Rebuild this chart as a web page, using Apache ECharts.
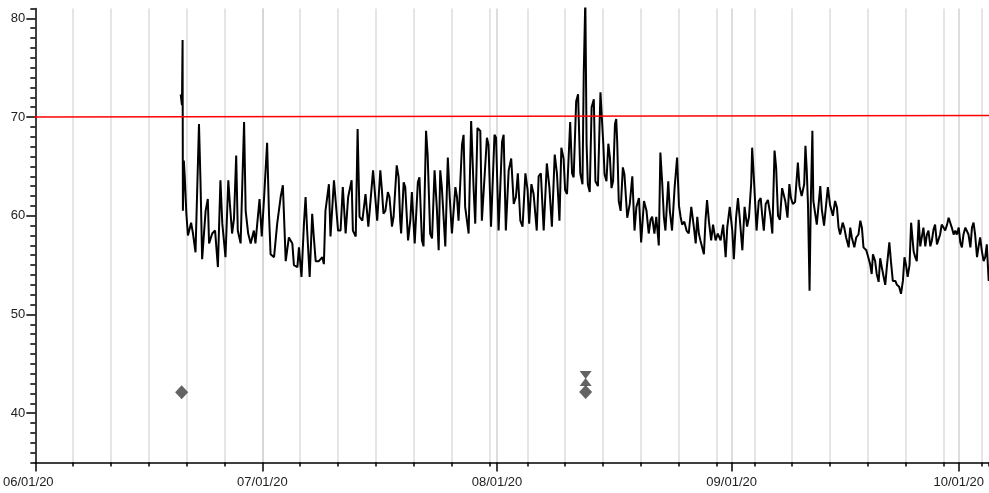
<!DOCTYPE html>
<html>
<head>
<meta charset="utf-8">
<script src="https://cdn.jsdelivr.net/npm/echarts@6/dist/echarts.min.js"></script>
<style>
  html, body { margin: 0; padding: 0; background: #fff; }
  #chart { width: 989px; height: 493px; }
</style>
</head>
<body>
<div id="chart"></div>
<script>
// Readings, stamped 'MM-DD HH' (2020, UTC)
const readingTimes = [
  '06-20 05','06-20 09','06-20 11','06-20 12','06-20 15','06-20 18','06-20 23','06-21 04','06-21 14','06-21 20',
  '06-22 04','06-22 15','06-22 20','06-23 01','06-23 12','06-23 19','06-23 23','06-24 09','06-24 18','06-25 03',
  '06-25 11','06-25 17','06-26 03','06-26 12','06-26 17','06-27 00','06-27 06','06-27 13','06-27 18','06-28 03',
  '06-28 14','06-28 19','06-29 03','06-29 11','06-29 21','06-30 02','06-30 15','06-30 22','07-01 05','07-01 15',
  '07-01 21','07-02 02','07-02 13','07-02 23','07-03 10','07-03 17','07-04 02','07-04 12','07-04 23','07-05 04',
  '07-05 15','07-05 20','07-06 04','07-06 12','07-06 17','07-06 22','07-07 06','07-07 14','07-07 19','07-08 01',
  '07-08 11','07-08 22','07-09 03','07-09 08','07-09 19','07-10 00','07-10 11','07-10 16','07-11 00','07-11 08',
  '07-11 15','07-12 00','07-12 08','07-12 19','07-12 23','07-13 08','07-13 14','07-13 20','07-14 05','07-14 15',
  '07-15 00','07-15 15','07-16 04','07-16 14','07-16 19','07-17 00','07-17 06','07-17 14','07-17 19','07-18 03',
  '07-18 08','07-18 18','07-19 00','07-19 05','07-19 08','07-19 16','07-19 21','07-20 06','07-20 13','07-20 18',
  '07-21 03','07-21 13','07-21 18','07-22 02','07-22 07','07-22 15','07-22 20','07-23 04','07-23 10','07-23 18',
  '07-24 01','07-24 07','07-24 12','07-24 17','07-25 04','07-25 12','07-25 18','07-26 01','07-26 12','07-26 17',
  '07-26 22','07-27 09','07-27 14','07-27 19','07-28 06','07-28 14','07-28 22','07-29 03','07-29 10','07-29 19',
  '07-30 00','07-30 06','07-30 16','07-30 21','07-31 05','07-31 16','07-31 21','08-01 05','08-01 16','08-01 21',
  '08-02 04','08-02 13','08-02 21','08-03 05','08-03 12','08-03 18','08-04 02','08-04 09','08-04 18','08-05 01',
  '08-05 06','08-05 13','08-05 20','08-06 06','08-06 12','08-06 19','08-07 04','08-07 14','08-07 22','08-08 06',
  '08-08 15','08-08 22','08-09 06','08-09 12','08-09 19','08-10 00','08-10 06','08-10 16','08-10 22','08-11 03',
  '08-11 11','08-11 17','08-12 00','08-12 07','08-12 11','08-12 16','08-12 20','08-13 00','08-13 06','08-13 12',
  '08-13 19','08-14 00','08-14 08','08-14 16','08-14 20','08-15 01','08-15 05','08-15 11','08-15 17','08-15 22',
  '08-16 03','08-16 08','08-16 14','08-16 18','08-16 21','08-17 02','08-17 08','08-17 15','08-17 20','08-18 05',
  '08-18 13','08-18 21','08-19 04','08-19 10','08-19 18','08-20 01','08-20 10','08-20 18','08-21 01','08-21 07',
  '08-21 12','08-21 19','08-22 01','08-22 09','08-22 14','08-22 20','08-23 01','08-23 06','08-23 15','08-23 20',
  '08-24 03','08-24 11','08-24 19','08-25 01','08-25 06','08-25 11','08-25 18','08-26 01','08-26 08','08-26 16',
  '08-27 00','08-27 06','08-27 11','08-27 16','08-27 21','08-28 08','08-28 13','08-28 18','08-29 00','08-29 07',
  '08-29 13','08-29 21','08-30 04','08-30 13','08-30 21','08-31 05','08-31 10','08-31 18','09-01 02','09-01 07',
  '09-01 14','09-01 20','09-02 02','09-02 10','09-02 17','09-03 01','09-03 07','09-03 14','09-03 17','09-03 23',
  '09-04 07','09-04 14','09-04 20','09-05 01','09-05 06','09-05 12','09-05 19','09-06 03','09-06 09','09-06 16',
  '09-06 21','09-07 03','09-07 09','09-07 16','09-08 02','09-08 09','09-08 15','09-08 20','09-09 02','09-09 09',
  '09-09 18','09-09 23','09-10 06','09-10 14','09-10 18','09-10 22','09-11 02','09-11 07','09-11 11','09-11 16',
  '09-11 19','09-12 01','09-12 06','09-12 17','09-12 22','09-13 05','09-13 17','09-14 00','09-14 09','09-14 16',
  '09-14 22','09-15 03','09-15 08','09-15 16','09-15 21','09-16 03','09-16 11','09-16 16','09-16 21','09-17 05',
  '09-17 11','09-17 18','09-18 00','09-18 05','09-18 10','09-18 19','09-19 02','09-19 07','09-19 12','09-19 16',
  '09-19 23','09-20 04','09-20 10','09-20 15','09-20 20','09-21 02','09-21 07','09-21 12','09-21 20','09-22 01',
  '09-22 07','09-22 15','09-22 20','09-23 03','09-23 09','09-23 15','09-23 20','09-24 01','09-24 06','09-24 12',
  '09-24 17','09-25 01','09-25 06','09-25 11','09-25 17','09-25 22','09-26 03','09-26 08','09-26 14','09-26 19',
  '09-27 00','09-27 06','09-27 11','09-27 16','09-27 21','09-28 03','09-28 08','09-28 13','09-28 18','09-29 00',
  '09-29 05','09-29 11','09-29 16','09-29 21','09-30 02','09-30 08','09-30 13','09-30 18','10-01 00','10-01 05',
  '10-01 10','10-01 15','10-01 21','10-02 02','10-02 07','10-02 13','10-02 18','10-02 23','10-03 04','10-03 10',
  '10-03 15','10-03 20','10-04 01','10-04 07','10-04 12','10-04 17','10-04 23'
];
const readingValues = [
  72.3,71.2,77.8,60.5,65.6,63.9,60.2,58.0,59.3,58.2,
  56.3,69.3,63.2,55.6,60.5,61.7,57.2,58.2,58.5,54.8,
  63.6,59.2,55.8,63.6,61.2,58.2,59.7,66.1,58.5,57.2,
  69.5,60.5,58.2,57.2,58.5,57.2,61.7,57.9,61.6,67.4,
  60.2,56.1,55.8,59.2,61.9,63.1,55.4,57.8,57.2,55.0,
  54.8,56.8,53.8,59.3,61.9,58.5,53.8,60.2,57.9,55.4,
  55.4,55.8,55.1,60.5,63.2,57.9,63.6,63.4,58.5,58.5,
  62.9,58.2,61.9,63.6,58.5,57.9,68.8,59.9,59.5,62.2,
  58.9,64.6,59.5,64.6,62.6,60.2,60.5,62.4,61.9,58.9,
  59.9,65.1,63.9,59.5,58.2,63.4,62.9,57.5,59.5,62.4,
  57.2,63.4,63.9,57.5,56.9,68.6,66.2,58.2,57.7,64.6,
  60.9,56.5,64.6,62.9,56.9,65.9,61.9,58.2,62.9,61.9,
  59.5,67.2,68.2,60.9,58.2,69.6,62.6,59.2,68.9,68.6,
  59.5,59.5,67.9,67.2,58.9,68.2,67.9,58.5,67.5,68.2,
  58.5,64.6,65.8,61.2,61.9,64.3,59.5,58.9,64.3,62.6,
  59.2,63.2,62.2,58.5,64.0,64.3,58.5,65.3,62.9,58.9,
  66.2,64.3,59.5,66.9,65.8,62.6,62.2,69.5,64.3,63.9,
  71.6,72.3,64.3,63.2,74.4,82.0,67.3,63.2,62.4,71.0,
  71.8,63.5,63.0,72.5,72.7,67.3,64.2,63.5,67.3,65.9,
  62.8,63.5,69.3,69.8,67.6,61.5,60.5,64.9,64.2,59.8,
  61.2,64.0,58.5,60.9,61.8,57.3,61.5,60.5,58.2,59.6,
  59.9,58.2,59.9,57.0,66.4,63.2,59.9,58.5,63.5,60.5,
  58.5,62.8,65.9,61.0,59.9,59.1,59.4,58.5,58.2,60.9,
  58.9,57.2,59.9,58.2,57.5,56.1,59.5,61.6,59.4,57.5,
  59.1,57.5,58.2,57.5,59.1,55.8,58.8,60.9,58.5,55.6,
  59.8,61.8,59.6,56.5,60.9,58.9,59.9,63.3,66.9,63.5,
  58.5,61.5,61.8,60.0,58.5,61.2,61.6,60.0,58.2,66.6,
  64.9,60.0,59.6,62.8,61.5,59.8,63.2,61.8,61.2,61.4,
  65.4,63.0,62.0,63.2,67.1,64.7,61.2,52.4,61.5,68.6,
  61.5,60.2,59.1,63.0,60.6,59.0,62.9,61.1,60.0,61.5,
  60.8,58.8,58.1,59.3,58.8,57.8,56.8,58.8,57.8,56.8,
  57.8,58.1,59.5,58.8,56.8,56.5,55.7,55.1,54.1,56.1,
  55.4,54.1,53.3,55.7,54.8,53.8,53.0,54.8,57.3,55.4,
  53.4,53.4,53.0,52.8,52.1,53.4,55.8,55.0,53.8,55.0,
  59.3,56.4,55.8,55.4,59.6,56.9,56.9,58.8,56.9,58.1,
  58.5,56.9,57.5,58.6,59.1,57.1,56.9,58.1,59.1,58.8,
  58.5,59.1,59.8,60.0,58.8,58.1,58.5,58.1,58.8,57.3,
  56.8,58.1,58.8,58.8,58.1,56.8,58.8,59.3,58.1,55.8,
  56.9,57.8,56.5,55.4,55.8,57.1,53.4
];

// Threshold line end points
const limitTimes = ['05-28 14', '10-05 02'];
const limitValues = [70.0, 70.16];

// Event markers
const diamondTimes = ['06-20 08', '08-12 17'];
const diamondValues = [42.13, 42.15];
const upTriangleTimes = ['08-12 17'];
const upTriangleValues = [43.16];
const downTriangleTimes = ['08-12 17'];
const downTriangleValues = [43.87];

// Axis ticks
const monthStarts = ['06-01 00', '07-01 00', '08-01 00', '09-01 00', '10-01 00'];
const yLabelValues = [40, 50, 60, 70, 80];
const axisStart = '06-01 00';
const axisEnd = '10-05 00';
const yMin = 35, yMax = 81;

const ORIGIN = Date.UTC(2020, 5, 1);
function toDays(stamp) {
  const [md, h] = stamp.split(' ');
  const [m, d] = md.split('-').map(Number);
  return (Date.UTC(2020, m - 1, d, Number(h)) - ORIGIN) / 864e5;
}
function fmtDate(days) {
  const dt = new Date(ORIGIN + Math.round(days * 864e5));
  const p = n => String(n).padStart(2, '0');
  return p(dt.getUTCMonth() + 1) + '/' + p(dt.getUTCDate()) + '/' + p(dt.getUTCFullYear() % 100);
}
const pairs = (ts, vs) => ts.map((t, i) => [toDays(t), vs[i]]);

const xMin = toDays(axisStart), xMax = toDays(axisEnd);
const monthDays = monthStarts.map(toDays);

const FONT = "'Liberation Sans', Arial, sans-serif";
const axisBlack = { color: '#000', width: 1.5 };
const gridGray = { color: '#dcdcdc', width: 1.5 };
const labelText = { fontFamily: FONT, fontSize: 13, color: '#222' };

const chart = echarts.init(document.getElementById('chart'), null, { renderer: 'canvas' });
chart.setOption({
  animation: false,
  backgroundColor: '#fff',
  grid: { left: 35, right: 0, top: 8.5, bottom: 30.5, containLabel: false },
  xAxis: [
    {
      type: 'value', min: xMin, max: xMax, interval: 5, position: 'bottom',
      axisLine: { show: true, onZero: false, lineStyle: axisBlack },
      axisTick: { show: true, length: 4, lineStyle: axisBlack },
      axisLabel: { show: false },
      splitLine: { show: true, showMinLine: false, showMaxLine: false, lineStyle: gridGray }
    },
    {
      type: 'value', min: xMin, max: xMax, position: 'bottom',
      axisLine: { show: false, onZero: false },
      axisTick: { show: true, length: 9, customValues: monthDays, lineStyle: axisBlack },
      axisLabel: Object.assign({
        show: true, customValues: monthDays, margin: 13,
        // the first date label sits a little left of its tick
        formatter: v => (v === xMin ? '{first|' + fmtDate(v) + '}' : fmtDate(v)),
        rich: { first: Object.assign({ padding: [0, 14, 0, 0] }, labelText) }
      }, labelText),
      splitLine: { show: true, showMinLine: false, lineStyle: { color: '#d2d2d2', width: 1.5 } }
    }
  ],
  yAxis: [
    {
      type: 'value', min: yMin, max: yMax, position: 'left',
      axisLine: { show: true, onZero: false, lineStyle: axisBlack },
      axisTick: { show: true, length: 9, customValues: yLabelValues, lineStyle: axisBlack },
      axisLabel: Object.assign({ show: true, customValues: yLabelValues, margin: 10 }, labelText),
      splitLine: { show: false }
    },
    {
      type: 'value', min: yMin, max: yMax, interval: 1, position: 'left',
      axisLine: { show: false, onZero: false },
      axisTick: { show: true, length: 5, lineStyle: axisBlack },
      axisLabel: { show: false },
      splitLine: { show: false }
    }
  ],
  series: [
    {
      name: 'Reading', type: 'line', xAxisIndex: 0, yAxisIndex: 0,
      data: pairs(readingTimes, readingValues),
      showSymbol: false, symbol: 'none',
      lineStyle: { color: '#000', width: 2 },
      z: 3
    },
    {
      name: 'Limit', type: 'line', xAxisIndex: 0, yAxisIndex: 0,
      data: pairs(limitTimes, limitValues),
      showSymbol: false, symbol: 'none', clip: false,
      lineStyle: { color: '#ff0000', width: 1.5 },
      z: 4
    },
    {
      name: 'Event', type: 'scatter', xAxisIndex: 0, yAxisIndex: 0,
      data: pairs(diamondTimes, diamondValues),
      symbol: 'diamond', symbolSize: [13, 14],
      itemStyle: { color: '#3c3c3c' }, z: 5
    },
    {
      name: 'Event up', type: 'scatter', xAxisIndex: 0, yAxisIndex: 0,
      data: pairs(upTriangleTimes, upTriangleValues),
      symbol: 'triangle', symbolSize: [12, 8],
      itemStyle: { color: '#3c3c3c' }, z: 5
    },
    {
      name: 'Event down', type: 'scatter', xAxisIndex: 0, yAxisIndex: 0,
      data: pairs(downTriangleTimes, downTriangleValues),
      symbol: 'triangle', symbolRotate: 180, symbolSize: [12, 8],
      itemStyle: { color: '#3c3c3c' }, z: 5
    }
  ]
});
</script>
</body>
</html>
